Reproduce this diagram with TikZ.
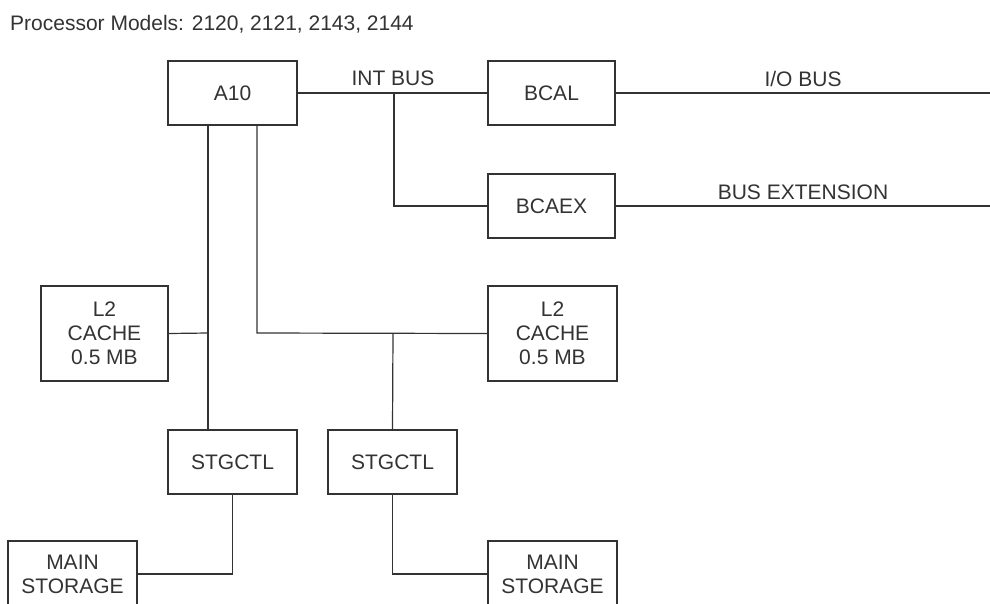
\documentclass[tikz,border=0pt]{standalone}
\usepackage{fontspec}
\setmainfont{Liberation Sans}
\definecolor{ink}{HTML}{333333}
\tikzset{
  box/.style={draw=ink, line width=1.2pt, inner sep=0pt, align=center,
    text=ink, font=\fontsize{21}{24}\selectfont, minimum width=129pt, minimum height=64pt},
  lbl/.style={text=ink, inner sep=0pt, font=\fontsize{21}{24}\selectfont},
  wire/.style={draw=ink, line width=1.2pt}
}
\begin{document}
\begin{tikzpicture}[x=1pt,y=-1pt]
\useasboundingbox (0,0) rectangle (990,603);
\clip (0,0) rectangle (990,603);
\fill[white] (0,0) rectangle (990,603);

\node[lbl, anchor=west] (title) at (10,24) {Processor Models: 2120, 2121, 2143, 2144};

\node[box] (A10) at (232.5,93) {A10};
\node[box, minimum width=127pt] (BCAL) at (551.5,93) {BCAL};
\node[box, minimum width=127pt] (BCAEX) at (551.5,206) {BCAEX};
\node[box, minimum width=127pt, minimum height=95pt] (L2L) at (104.5,333.5) {L2\\CACHE\\0.5 MB};
\node[box, minimum height=95pt] (L2R) at (552.5,333.5) {L2\\CACHE\\0.5 MB};
\node[box] (STGL) at (232.5,462) {STGCTL};
\node[box] (STGR) at (392.5,462) {STGCTL};
\node[box, minimum height=66pt] (MAINL) at (72.5,574) {MAIN\\STORAGE};
\node[box, minimum height=66pt] (MAINR) at (552.5,574) {MAIN\\STORAGE};

\coordinate (j1) at (394,93);
\coordinate (io) at (990,93);
\coordinate (ext) at (990,206);
\coordinate (v1) at (208,333);
\coordinate (v2) at (257,333);
\coordinate (v3) at (393,333);

\draw[wire] (A10.east) -- (BCAL.west);
\draw[wire] (j1) |- (BCAEX.west);
\draw[wire] (BCAL.east) -- (io);
\draw[wire] (BCAEX.east) -- (ext);
\draw[wire] (A10.south -| v1) -- (STGL.north -| v1);
\draw[wire] (L2L.east) -- (v1);
\draw[wire] (A10.south -| v2) -- (v2) -- (L2R.west);
\draw[wire] (v3) -- (STGR.north);
\draw[wire] (STGL.south) |- (MAINL.east);
\draw[wire] (STGR.south) |- (MAINR.west);

\node[lbl] (intbus) at (393,78) {INT BUS};
\node[lbl] (iobus) at (803,79) {I/O BUS};
\node[lbl] (busext) at (803,192) {BUS EXTENSION};
\end{tikzpicture}
\end{document}
